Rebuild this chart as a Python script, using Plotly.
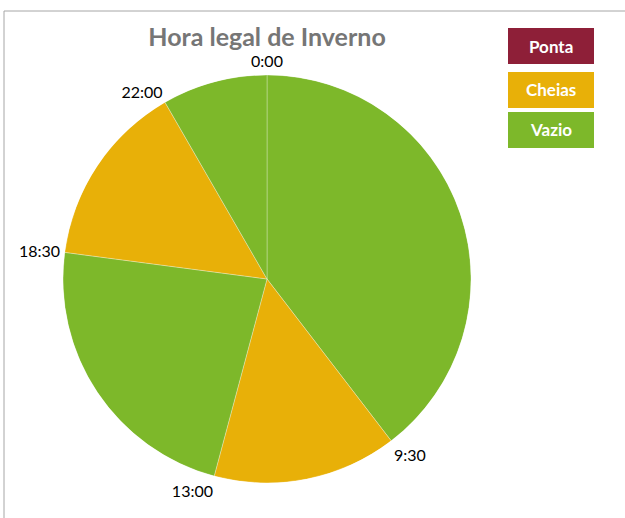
import plotly.graph_objects as go

# Data
periods = ["Vazio", "Cheias", "Vazio", "Cheias", "Vazio"]
start_hours = [0, 9.5, 13, 18.5, 22]
durations = [9.5, 3.5, 5.5, 3.5, 2]
boundary_labels = ["0:00", "9:30", "13:00", "18:30", "22:00"]
legend_names = ["Ponta", "Cheias", "Vazio"]
colors = {"Ponta": "#8E1F38", "Cheias": "#E8B008", "Vazio": "#7DB82A"}

DEG_PER_HOUR = 360 / 24
W, H = 625, 518


def px(x):
    return x / W


def py(y):
    return 1 - y / H


fig = go.Figure()
fig.add_trace(go.Barpolar(
    r=[1] * len(periods),
    theta=[(s + d / 2) * DEG_PER_HOUR for s, d in zip(start_hours, durations)],
    width=[d * DEG_PER_HOUR for d in durations],
    marker=dict(color=[colors[p] for p in periods], line=dict(color="rgba(255,255,255,0.5)", width=0.6)),
    hovertext=periods,
    showlegend=False,
))

cx, cy, rad = 267, 279, 204
fig.update_layout(
    width=W, height=H,
    margin=dict(l=0, r=0, t=0, b=0),
    paper_bgcolor="white",
    font=dict(family="Lato, Carlito, sans-serif", size=16, color="#000000"),
    polar=dict(
        domain=dict(x=[px(cx - rad), px(cx + rad)], y=[py(cy + rad), py(cy - rad)]),
        bgcolor="rgba(0,0,0,0)",
        bargap=0,
        radialaxis=dict(visible=False, range=[0, 1]),
        angularaxis=dict(
            direction="clockwise", rotation=90, thetaunit="degrees",
            tickmode="array",
            tickvals=[s * DEG_PER_HOUR for s in start_hours],
            ticktext=boundary_labels,
            ticks="outside", ticklen=1, tickcolor="rgba(0,0,0,0)",
            showline=False, showgrid=False,
            tickfont=dict(size=16, color="#000000"),
        ),
    ),
    title=dict(text="<b>Hora legal de Inverno</b>", x=px(cx), xanchor="center",
               y=py(37), yanchor="middle",
               font=dict(family="Lato, sans-serif", size=25, color="#767676")),
    shapes=[dict(type="line", xref="paper", yref="paper", x0=px(4), x1=1.05, y0=py(11), y1=py(11),
                 line=dict(color="#A6A6A6", width=1)),
            dict(type="line", xref="paper", yref="paper", x0=px(4), x1=px(4), y0=py(11), y1=-0.05,
                 line=dict(color="#A6A6A6", width=1))],
)

# Custom legend boxes
box_x0, box_x1 = 508, 594
box_tops = [28, 72, 112]
box_h = 36
for name, top in zip(legend_names, box_tops):
    fig.add_shape(type="rect", xref="paper", yref="paper",
                  x0=px(box_x0), x1=px(box_x1), y0=py(top + box_h), y1=py(top),
                  fillcolor=colors[name], line=dict(width=0))
    fig.add_annotation(xref="paper", yref="paper", x=px((box_x0 + box_x1) / 2), y=py(top + box_h / 2),
                       text="<b>" + name + "</b>", showarrow=False, xanchor="center", yanchor="middle",
                       font=dict(family="Lato, sans-serif", size=17, color="white"))

fig.write_html("out.html", config={"displayModeBar": False},
               post_script="document.body.style.margin='0px';document.body.style.overflow='hidden';")
